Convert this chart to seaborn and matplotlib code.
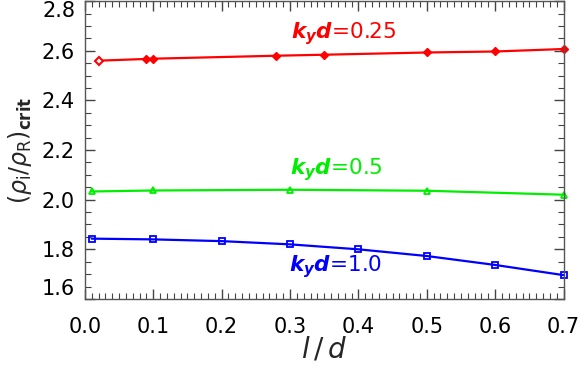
import numpy as np
import pandas as pd
import matplotlib
matplotlib.use("Agg")
import matplotlib.pyplot as plt
import seaborn as sns
from matplotlib.ticker import MultipleLocator, FormatStrFormatter

red_x = [0.02, 0.09, 0.10, 0.28, 0.35, 0.50, 0.60, 0.70]
red_y = [2.560, 2.567, 2.568, 2.580, 2.584, 2.593, 2.597, 2.607]
green_x = [0.01, 0.10, 0.30, 0.50, 0.70]
green_y = [2.033, 2.037, 2.040, 2.036, 2.020]
blue_x = [0.01, 0.10, 0.20, 0.30, 0.40, 0.50, 0.60, 0.70]
blue_y = [1.843, 1.840, 1.833, 1.820, 1.800, 1.773, 1.737, 1.696]
labels = ["0.25", "0.5", "1.0"]

sns.set_style("ticks")
plt.rcParams['font.family'] = ['DejaVu Sans']
plt.rcParams['mathtext.fontset'] = 'dejavusans'

fig = plt.figure(figsize=(5.81, 3.70), dpi=100)
ax = fig.add_axes([0.146, 0.192, 0.824, 0.805])

series = [
    (red_x, red_y, "#ff0000", "D", labels[0]),
    (green_x, green_y, "#00ee00", "^", labels[1]),
    (blue_x, blue_y, "#0000ff", "s", labels[2]),
]
for xs, ys, c, m, lab in series:
    df = pd.DataFrame({"x": xs, "y": ys})
    sns.lineplot(data=df, x="x", y="y", ax=ax, color=c, lw=1.6, legend=False)
    if m == "D":
        ax.plot(xs[:1], ys[:1], ls='none', marker='D', ms=4, mfc='white', mec=c, mew=1.5, clip_on=False)
        ax.plot(xs[1:], ys[1:], ls='none', marker='D', ms=4, mfc=c, mec=c, clip_on=False)
    else:
        ax.plot(xs, ys, ls='none', marker=m, ms=5, mfc='none', mec=c, mew=1.3, clip_on=False)

txt_kw = dict(fontsize=15.5, ha='left', va='center')
for (x0, y0, c, lab) in [(0.302, 2.668, '#ff0000', labels[0]),
                         (0.300, 2.122, '#00ee00', labels[1]),
                         (0.299, 1.732, '#0000ff', labels[2])]:
    ax.text(x0, y0, r'$\mathbfit{k_y d}$' + '=' + lab, color=c, **txt_kw)

ax.set_xlim(0.0, 0.7)
ax.set_ylim(1.6, 2.8)
ax.xaxis.set_major_locator(MultipleLocator(0.1))
ax.xaxis.set_minor_locator(MultipleLocator(0.01))
ax.yaxis.set_major_locator(MultipleLocator(0.2))
ax.yaxis.set_minor_locator(MultipleLocator(0.05))
ax.xaxis.set_major_formatter(FormatStrFormatter('%.1f'))
ax.yaxis.set_major_formatter(FormatStrFormatter('%.1f'))
ax.tick_params(which='both', direction='in', top=True, right=True, colors='#444444', labelcolor='black')
ax.tick_params(which='major', length=7, width=1, labelsize=15)
ax.tick_params(axis='x', which='major', pad=13)
ax.tick_params(axis='y', which='major', pad=7)
ax.tick_params(which='minor', length=4, width=0.8)
for s in ax.spines.values():
    s.set_color('#555555')
    s.set_linewidth(1.0)

fig.canvas.draw()
for t in ax.get_yticklabels():
    v = t.get_position()[1]
    if abs(v - 2.8) < 1e-6:
        t.set_va('top')
    elif abs(v - 1.6) < 1e-6:
        t.set_va('bottom')
    else:
        t.set_va('center_baseline')

ax.set_xlabel(r'$l\,/\,d$', fontsize=20, labelpad=-1)
ax.set_ylabel(r'$(\rho_\mathrm{i}/\rho_\mathrm{R})_\mathbf{crit}$', fontsize=17, labelpad=6)

fig.savefig("out.png", dpi=100)
